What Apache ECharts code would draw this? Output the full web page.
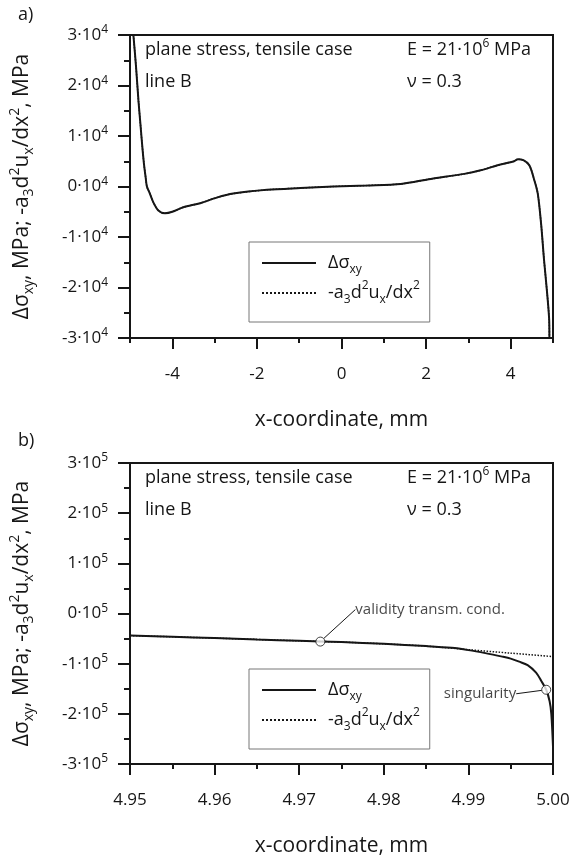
<!DOCTYPE html>
<html>
<head>
<meta charset="utf-8">
<script src="https://cdn.jsdelivr.net/npm/echarts@6.0.0/dist/echarts.min.js"></script>
<style>
html, body { margin: 0; padding: 0; background: #fff; }
#chart { width: 582px; height: 858px; }
</style>
</head>
<body>
<div id="chart"></div>
<script>
// panel a) - whole line B, x in mm, stress in MPa
const topX = [-4.92, -4.86, -4.80, -4.75, -4.71, -4.67, -4.63, -4.60, -4.53, -4.45, -4.33, -4.17,
  -4.00, -3.74, -3.34, -2.95, -2.56, -1.76, -0.97, -0.19, 0.61, 1.40, 2.11, 2.90, 3.29, 3.69,
  4.08, 4.17, 4.30, 4.44, 4.55, 4.64, 4.72, 4.79, 4.86, 4.91, 4.915]
const topStress = [30000, 24000, 17000, 12000, 8000, 4500, 1800, 0, -1400, -3100, -4750, -5300,
  -5000, -4100, -3300, -2200, -1400, -660, -300, 0, 200, 500, 1500, 2500, 3200, 4200,
  5000, 5400, 5200, 4200, 1500, -1400, -7500, -14700, -21000, -26500, -30000]
// in panel a) the dotted curve lies right under the solid one
const topDeriv = topStress

// panel b) - zoom on the end of the line
const botX = [4.95, 4.955, 4.96, 4.965, 4.97, 4.975, 4.98, 4.985, 4.988, 4.99, 4.992, 4.994,
  4.995, 4.996, 4.997, 4.998, 4.9986, 4.9992, 4.9996, 4.9998, 5.0]
const botStress = [-44000, -46500, -49000, -52000, -54500, -57000, -60500, -65000, -68500, -73000,
  -79000, -86000, -90000, -96000, -103000, -118000, -134000, -152000, -175000, -200000, -265000]
const botDerivX = [4.95, 4.96, 4.97, 4.975, 4.98, 4.985, 4.99, 4.995, 5.0]
const botDeriv = [-44000, -49000, -54500, -57000, -60500, -65000, -72000, -79000, -86000]

const markerX = [4.9725, 4.9992]
const markerY = [-56000, -152000]
const markerText = ['validity transm. cond.', 'singularity']

const topXTicks = [-4, -2, 0, 2, 4]

const S_NAME = 'dsxy'
const D_NAME = 'a3d2ux'

const FONT = '"Open Sans", "DejaVu Sans", sans-serif'
const INK = '#161616'

const zip = (xs, ys) => xs.map((x, i) => [x, ys[i]])

const labelRich = {
  n: { fontFamily: FONT, fontSize: 17, color: INK, lineHeight: 22 },
  sup: { fontFamily: FONT, fontSize: 12, color: INK, lineHeight: 12, verticalAlign: 'top' }
}
const bigRich = {
  f: { fontFamily: FONT, fontSize: 18, color: INK, lineHeight: 26, padding: [0, 0, 0, 7] },
  n: { fontFamily: FONT, fontSize: 18, color: INK, lineHeight: 26 },
  sub: { fontFamily: FONT, fontSize: 12, color: INK, lineHeight: 12, verticalAlign: 'bottom' },
  sup: { fontFamily: FONT, fontSize: 12, color: INK, lineHeight: 12, verticalAlign: 'top' }
}
const nameRich = {
  n: { fontFamily: FONT, fontSize: 21, color: INK, lineHeight: 28 },
  sub: { fontFamily: FONT, fontSize: 14, color: INK, lineHeight: 14, verticalAlign: 'bottom' },
  sup: { fontFamily: FONT, fontSize: 14, color: INK, lineHeight: 14, verticalAlign: 'top' }
}

const yName = '{n|Δσ}{sub|xy}{n|, MPa; -a}{sub|3}{n|d}{sup|2}{n|u}{sub|x}{n|/dx}{sup|2}{n|, MPa}'

const line2 = { color: INK, width: 2 }

function yAxisFor(gridIndex, scale, exp) {
  return {
    type: 'value', gridIndex: gridIndex,
    min: -3 * scale, max: 3 * scale, interval: scale,
    axisLine: { show: true, onZero: false, lineStyle: line2 },
    axisTick: { show: true, length: 12, lineStyle: line2 },
    minorTick: { show: true, splitNumber: 2, length: 6, lineStyle: line2 },
    splitLine: { show: false },
    axisLabel: {
      margin: 22,
      formatter: v => '{n|' + Math.round(v / scale) + '·10}{sup|' + exp + '}',
      rich: labelRich
    },
    name: yName, nameLocation: 'middle', nameRotate: 90, nameGap: 94,
    nameTextStyle: { rich: nameRich }
  }
}

const xName = {
  name: 'x-coordinate, mm', nameLocation: 'middle', nameGap: 72,
  nameTextStyle: { fontFamily: FONT, fontSize: 21, color: INK }
}

function legendFor(top) {
  return {
    left: 249, top: top, orient: 'vertical',
    data: [S_NAME, D_NAME],
    itemWidth: 54, itemHeight: 14, itemGap: 4,
    padding: [12, 10, 16, 12],
    borderColor: '#777', borderWidth: 1, selectedMode: false,
    itemStyle: { opacity: 0 },
    textStyle: { rich: bigRich },
    formatter: name => name === S_NAME
      ? '{f|Δσ}{sub|xy}'
      : '{f|-a}{sub|3}{n|d}{sup|2}{n|u}{sub|x}{n|/dx}{sup|2}'
  }
}

function notes(top) {
  const t = { fontFamily: FONT, fontSize: 18, fill: INK, verticalAlign: 'middle' }
  return [
    { type: 'text', x: 145, y: top + 15, style: Object.assign({ text: 'plane stress, tensile case' }, t) },
    { type: 'text', x: 145, y: top + 47, style: Object.assign({ text: 'line B' }, t) },
    { type: 'text', x: 407, y: top + 15, style: Object.assign({
      text: '{n|E = 21·10}{sup|6}{n| MPa}',
      rich: {
        n: { fontFamily: FONT, fontSize: 18, fill: INK, lineHeight: 24 },
        sup: { fontFamily: FONT, fontSize: 12, fill: INK, lineHeight: 12, verticalAlign: 'top' }
      }
    }, t) },
    { type: 'text', x: 407, y: top + 47, style: Object.assign({ text: 'ν = 0.3' }, t) }
  ]
}

const chart = echarts.init(document.getElementById('chart'))

chart.setOption({
  animation: false,
  backgroundColor: '#fff',
  grid: [
    { left: 130, top: 35, width: 423, height: 303, show: true, borderColor: INK, borderWidth: 2, outerBoundsMode: 'none' },
    { left: 130, top: 463, width: 423, height: 301, show: true, borderColor: INK, borderWidth: 2, outerBoundsMode: 'none' }
  ],
  xAxis: [
    // short ticks every 1 mm
    {
      type: 'value', gridIndex: 0, min: -5, max: 5, interval: 1,
      axisLine: { show: true, onZero: false, lineStyle: line2 },
      axisTick: { show: true, length: 5, lineStyle: line2 },
      axisLabel: { show: false },
      splitLine: { show: false }
    },
    // long ticks + labels on even values
    Object.assign({
      type: 'value', gridIndex: 0, min: -5, max: 5, position: 'bottom',
      axisLine: { show: false, onZero: false },
      axisTick: { show: true, length: 11, lineStyle: line2, customValues: topXTicks },
      axisLabel: { customValues: topXTicks, margin: 28, fontFamily: FONT, fontSize: 17, color: INK },
      splitLine: { show: false }
    }, xName),
    Object.assign({
      type: 'value', gridIndex: 1, min: 4.95, max: 5.0, interval: 0.01,
      axisLine: { show: true, onZero: false, lineStyle: line2 },
      axisTick: { show: true, length: 11, lineStyle: line2 },
      minorTick: { show: true, splitNumber: 2, length: 5, lineStyle: line2 },
      axisLabel: { margin: 28, fontFamily: FONT, fontSize: 17, color: INK, formatter: v => v.toFixed(2) },
      splitLine: { show: false }
    }, xName)
  ],
  yAxis: [yAxisFor(0, 10000, 4), yAxisFor(1, 100000, 5)],
  legend: [legendFor(242), legendFor(669)],
  graphic: [
    { type: 'text', x: 18, y: 15, style: { text: 'a)', fontFamily: FONT, fontSize: 18, fill: INK, verticalAlign: 'middle' } },
    { type: 'text', x: 18, y: 441, style: { text: 'b)', fontFamily: FONT, fontSize: 18, fill: INK, verticalAlign: 'middle' } }
  ].concat(notes(35), notes(463)),
  series: [
    {
      name: D_NAME, type: 'line', xAxisIndex: 0, yAxisIndex: 0,
      data: zip(topX, topDeriv), symbol: 'none', smooth: 0.3, z: 2,
      lineStyle: { color: INK, width: 1.5, type: 'dotted' }, itemStyle: { color: INK }
    },
    {
      name: S_NAME, type: 'line', xAxisIndex: 0, yAxisIndex: 0,
      data: zip(topX, topStress), symbol: 'none', smooth: 0.3, z: 3,
      lineStyle: { color: INK, width: 2 }, itemStyle: { color: INK }
    },
    {
      name: D_NAME, type: 'line', xAxisIndex: 2, yAxisIndex: 1,
      data: zip(botDerivX, botDeriv), symbol: 'none', smooth: 0.3, z: 2,
      lineStyle: { color: INK, width: 1.5, type: 'dotted' }, itemStyle: { color: INK }
    },
    {
      name: S_NAME, type: 'line', xAxisIndex: 2, yAxisIndex: 1,
      data: zip(botX, botStress), symbol: 'none', smooth: 0.3, z: 3,
      lineStyle: { color: INK, width: 2 }, itemStyle: { color: INK }
    },
    {
      type: 'scatter', xAxisIndex: 2, yAxisIndex: 1, z: 5,
      symbol: 'circle', symbolSize: 9,
      itemStyle: { color: '#fff', borderColor: INK, borderWidth: 1 },
      data: markerX.map((x, i) => ({
        value: [x, markerY[i]],
        label: { position: i === 0 ? 'right' : 'left' }
      })),
      label: {
        show: true, fontFamily: FONT, fontSize: 15, color: INK,
        formatter: p => markerText[p.dataIndex]
      },
      labelLine: { show: true, lineStyle: { color: INK, width: 1 } },
      labelLayout: p => p.dataIndex === 0 ? { dx: 25, dy: -32 } : { dx: -20, dy: 4 }
    }
  ]
})
</script>
</body>
</html>
